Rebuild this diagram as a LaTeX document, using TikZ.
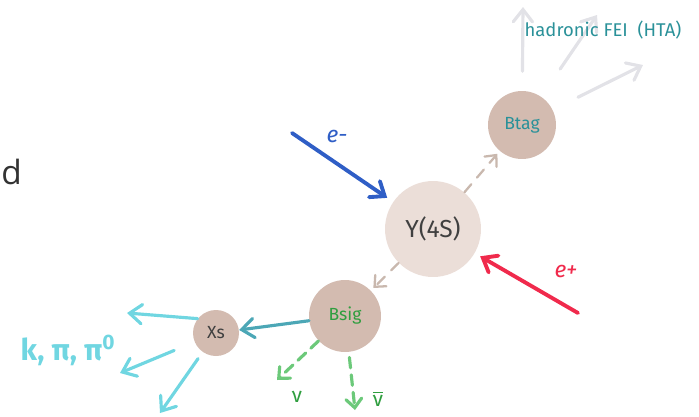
\documentclass[tikz,border=0pt]{standalone}
\usepackage{fontspec}
\setmainfont{Fira Sans}
\newfontfamily\slidefont{Open Sans}
\usepackage{xcolor}
\usepackage{tikz}
\usetikzlibrary{arrows.meta}
\definecolor{beamblue}{HTML}{2F5EC6}
\definecolor{beamred}{HTML}{F02A4C}
\definecolor{upsfill}{HTML}{EBDED8}
\definecolor{mesfill}{HTML}{D3BBB0}
\definecolor{tagteal}{HTML}{2A9199}
\definecolor{sigteal}{HTML}{4CA7B6}
\definecolor{hadcyan}{HTML}{70D6E1}
\definecolor{nulight}{HTML}{6CC97A}
\definecolor{nudark}{HTML}{2F9E3F}
\definecolor{fadegray}{HTML}{E2E2E7}
\definecolor{dashtan}{HTML}{C9B8AE}
\newcommand{\fsz}[1]{\fontsize{#1}{#1}\selectfont}

\begin{document}
\begin{tikzpicture}[x=0.02cm, y=-0.02cm,
    ball/.style={circle, fill=mesfill, inner sep=0pt},
    hand/.style={line cap=round, -{Straight Barb[length=7pt, width=11pt, line cap=round]}},
    smallhand/.style={line cap=round, -{Straight Barb[length=5pt, width=9pt, line cap=round]}}]
    \useasboundingbox (0,0) rectangle (699,416);

    % Rest vom Folientext
    \node[anchor=west, text=black!80, inner sep=0pt] (cut) at (1,172) {\slidefont\fsz{19}d};

    % Resonanz und B-Mesonen
    \node[ball, fill=upsfill, minimum size=1.92cm] (Y) at (433,229) {\fsz{14}\textcolor{black!75}{Y(4S)}};
    \node[ball, minimum size=1.36cm] (Btag) at (522,125) {\fsz{10}\textcolor{tagteal}{Btag}};
    \node[ball, minimum size=1.44cm] (Bsig) at (345,316) {\fsz{10}\textcolor{nudark}{Bsig}};
    \node[ball, minimum size=0.92cm] (Xs) at (216,333) {\fsz{10}\textcolor{black!75}{Xs}};

    % Strahlen
    \coordinate (em) at (292,133);
    \coordinate (ep) at (578,313);
    \draw[hand, beamblue, line width=2.2pt, shorten >=4pt] (em) -- (Y);
    \draw[hand, beamred, line width=2.2pt, shorten >=3.5pt] (ep) -- (Y);
    \node[beamblue] (emlab) at (337,136) {\fsz{13}\itshape e-};
    \node[beamred] (eplab) at (566,271) {\fsz{13}\itshape e+};

    % Zerfall Y(4S) -> B B
    \draw[smallhand, dashtan, line width=1.3pt, dash pattern=on 6pt off 5pt, shorten >=2pt] (Y) -- (Btag);
    \draw[smallhand, dashtan, line width=1.3pt, dash pattern=on 6pt off 5pt, shorten >=2pt] (Y) -- (Bsig);

    % Tag-Seite
    \coordinate (h1) at (523,7);
    \coordinate (h2) at (597,15);
    \coordinate (h3) at (643,65);
    \draw[hand, fadegray, line width=1.8pt, shorten <=11pt] (Btag) -- (h1);
    \draw[hand, fadegray, line width=1.8pt, shorten <=19pt] (Btag) -- (h2);
    \draw[hand, fadegray, line width=1.8pt, shorten <=16pt] (Btag) -- (h3);
    \node[tagteal] (fei) at (603,30) {\fsz{10.5}hadronic FEI\ \ (HTA)};

    % Signal-Seite
    \draw[hand, sigteal, line width=1.8pt] (Bsig) -- (Xs);
    \coordinate (k1) at (127,313);
    \coordinate (k2) at (120,373);
    \coordinate (k3) at (160,413);
    \draw[hand, hadcyan, line width=1.8pt] (Xs.142) -- (k1);
    \draw[hand, hadcyan, line width=1.8pt, shorten <=12.5pt] (Xs) -- (k2);
    \draw[hand, hadcyan, line width=1.8pt, shorten <=4.5pt] (Xs) -- (k3);
    \node[hadcyan] (kpi) at (68,350) {\fsz{17}\bfseries k, π, π\textsuperscript{0}};

    % Neutrinos
    \coordinate (nu1) at (277,380);
    \coordinate (nu2) at (355,410);
    \draw[smallhand, nulight, line width=1.8pt, dash pattern=on 6pt off 4pt] (Bsig) -- (nu1);
    \draw[smallhand, nulight, line width=1.8pt, dash pattern=on 6pt off 4pt, shorten <=3pt] (Bsig) -- (nu2);
    \node[nudark] (nulab) at (297,397) {\fsz{12}ν};
    \node[nudark] (nubarlab) at (378,399) {\fsz{12}$\overline{\hbox{ν}}$};
\end{tikzpicture}
\end{document}
